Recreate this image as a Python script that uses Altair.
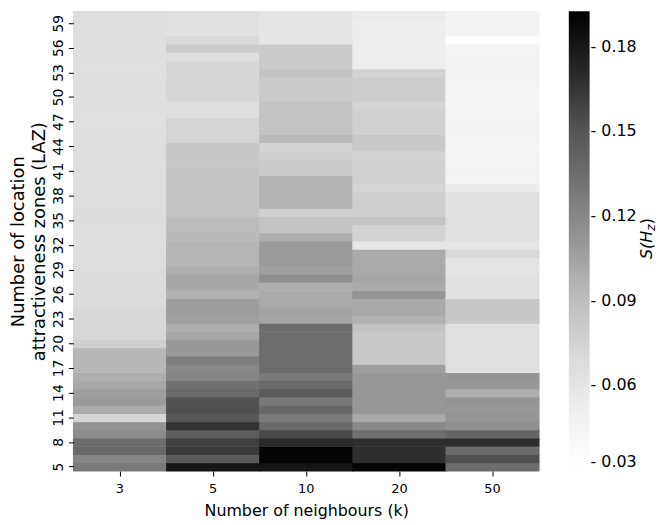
import altair as alt
import pandas as pd

rows = list(range(5, 61))
neighbours = ["3", "5", "10", "20", "50"]

k3 = [0.128, 0.121, 0.138, 0.135, 0.117, 0.113, 0.073, 0.101, 0.109, 0.107,
      0.102, 0.099, 0.094, 0.094, 0.094, 0.077, 0.072, 0.072, 0.071, 0.071,
      0.069, 0.069, 0.068, 0.068, 0.068, 0.067, 0.067, 0.066, 0.066, 0.067,
      0.068, 0.068, 0.067, 0.067, 0.066, 0.066, 0.066, 0.066, 0.067, 0.067,
      0.066, 0.066, 0.065, 0.065, 0.066, 0.066, 0.066, 0.066, 0.065, 0.065,
      0.066, 0.066, 0.066, 0.066, 0.066, 0.066]
k5 = [0.180, 0.147, 0.163, 0.160, 0.145, 0.166, 0.148, 0.153, 0.152, 0.138,
      0.133, 0.122, 0.120, 0.125, 0.110, 0.110, 0.103, 0.099, 0.106, 0.107,
      0.107, 0.097, 0.102, 0.103, 0.099, 0.095, 0.095, 0.095, 0.0925, 0.0925,
      0.090, 0.0855, 0.0855, 0.0855, 0.0855, 0.0855, 0.0855, 0.083, 0.084, 0.084,
      0.074, 0.074, 0.074, 0.066, 0.066, 0.0725, 0.0725, 0.0725, 0.0725, 0.0725,
      0.066, 0.081, 0.071, 0.064, 0.064, 0.064]
k10 = [0.181, 0.190, 0.190, 0.170, 0.156, 0.1375, 0.127, 0.1375, 0.128, 0.147,
       0.1375, 0.128, 0.136, 0.136, 0.136, 0.136, 0.136, 0.136, 0.103, 0.104,
       0.101, 0.101, 0.099, 0.116, 0.106, 0.109, 0.109, 0.109, 0.099, 0.0855,
       0.0855, 0.077, 0.096, 0.096, 0.096, 0.096, 0.081, 0.081, 0.078, 0.075,
       0.0925, 0.0855, 0.0855, 0.0855, 0.0855, 0.081, 0.081, 0.081, 0.0855, 0.0805,
       0.0805, 0.0805, 0.060, 0.060, 0.060, 0.060]
k20 = [0.190, 0.168, 0.168, 0.168, 0.134, 0.119, 0.102, 0.110, 0.110, 0.110,
       0.110, 0.110, 0.107, 0.083, 0.083, 0.083, 0.083, 0.087, 0.097, 0.102,
       0.102, 0.112, 0.101, 0.103, 0.101, 0.101, 0.101, 0.060, 0.075, 0.075,
       0.0855, 0.078, 0.078, 0.078, 0.074, 0.077, 0.077, 0.077, 0.076, 0.082,
       0.082, 0.077, 0.077, 0.077, 0.074, 0.079, 0.079, 0.079, 0.075, 0.052,
       0.052, 0.052, 0.052, 0.052, 0.052, 0.055]
k50 = [0.135, 0.153, 0.1375, 0.169, 0.140, 0.1155, 0.112, 0.110, 0.112, 0.099,
       0.110, 0.112, 0.064, 0.064, 0.064, 0.064, 0.064, 0.064, 0.084, 0.084,
       0.084, 0.064, 0.064, 0.064, 0.062, 0.062, 0.071, 0.060, 0.064, 0.064,
       0.064, 0.064, 0.064, 0.064, 0.055, 0.045, 0.046, 0.045, 0.045, 0.044,
       0.045, 0.046, 0.045, 0.045, 0.044, 0.044, 0.045, 0.045, 0.046, 0.046,
       0.045, 0.045, 0.033, 0.046, 0.046, 0.046]

series = {"3": k3, "5": k5, "10": k10, "20": k20, "50": k50}
records = []
for k in neighbours:
    for r, v in zip(rows, series[k]):
        records.append({"k": k, "laz": r, "value": v})
df = pd.DataFrame(records)

y_ticks = list(range(5, 60, 3))
legend_ticks = [0.03, 0.06, 0.09, 0.12, 0.15, 0.18]
# colour stops of the grey colour bar (white -> black)
color_stops = [0.03, 0.0503, 0.0706, 0.0909, 0.1113, 0.1316, 0.1519, 0.1722, 0.1925]
grey_colors = ["#ffffff", "#f0f0f0", "#d9d9d9", "#bdbdbd", "#969696",
               "#737373", "#525252", "#252525", "#000000"]
FONT = "DejaVu Sans"

W, H = 470, 464

grey_scale = alt.Scale(domain=color_stops, range=grey_colors, interpolate="rgb")

heat = alt.Chart(df).mark_rect(strokeWidth=0, height=alt.RelativeBandSize(1.08),
                               width=alt.RelativeBandSize(1.01)).encode(
    x=alt.X("k:O", sort=neighbours, scale=alt.Scale(paddingInner=0, paddingOuter=0),
            axis=alt.Axis(title="Number of neighbours (k)", labelAngle=0, domain=False,
                          tickSize=5, labelPadding=7, titlePadding=7,
                          labelFontSize=13, titleFontSize=16, titleFontWeight="normal")),
    y=alt.Y("laz:O", sort="descending", scale=alt.Scale(paddingInner=0, paddingOuter=0),
            axis=alt.Axis(title=["Number of location", "attractiveness zones (LAZ)"],
                          values=y_ticks, labelAngle=270, labelAlign="center",
                          labelBaseline="bottom", domain=False, tickSize=5,
                          labelPadding=3, titlePadding=3, titleLineHeight=21,
                          labelFontSize=14, titleFontSize=18, titleFontWeight="normal")),
    color=alt.Color("value:Q", scale=grey_scale,
                    legend=alt.Legend(title=None, type="gradient", orient="none",
                                      legendX=500, legendY=0,
                                      direction="vertical",
                                      gradientLength=463, gradientThickness=21,
                                      gradientStrokeWidth=0,
                                      values=legend_ticks, format=".2f",
                                      labelExpr="'- ' + datum.label",
                                      labelFontSize=16, labelOverlap=False,
                                      labelOffset=1)),
)

title_df = pd.DataFrame({"a": [0]})
t1 = alt.Chart(title_df).mark_text(angle=270, align="left", baseline="middle",
                                    fontSize=16, fontStyle="italic", color="black").encode(
    x=alt.value(579), y=alt.value(250), text=alt.value("S(H"))
t2 = alt.Chart(title_df).mark_text(angle=270, align="left", baseline="middle",
                                    fontSize=12, fontStyle="italic", color="black").encode(
    x=alt.value(583), y=alt.value(221.5), text=alt.value("z"))
t3 = alt.Chart(title_df).mark_text(angle=270, align="left", baseline="middle",
                                    fontSize=16, color="black").encode(
    x=alt.value(579), y=alt.value(215), text=alt.value(")"))

chart = alt.layer(heat, t1, t2, t3).properties(
    width=W, height=H, padding={"left": 2, "top": 0, "right": 0, "bottom": 0}
).configure(font=FONT).configure_view(strokeWidth=0).configure_axis(
    labelColor="black", titleColor="black", tickColor="black"
).configure_legend(labelColor="black")

chart.save("out.html", embed_options={"renderer": "svg", "actions": False})
